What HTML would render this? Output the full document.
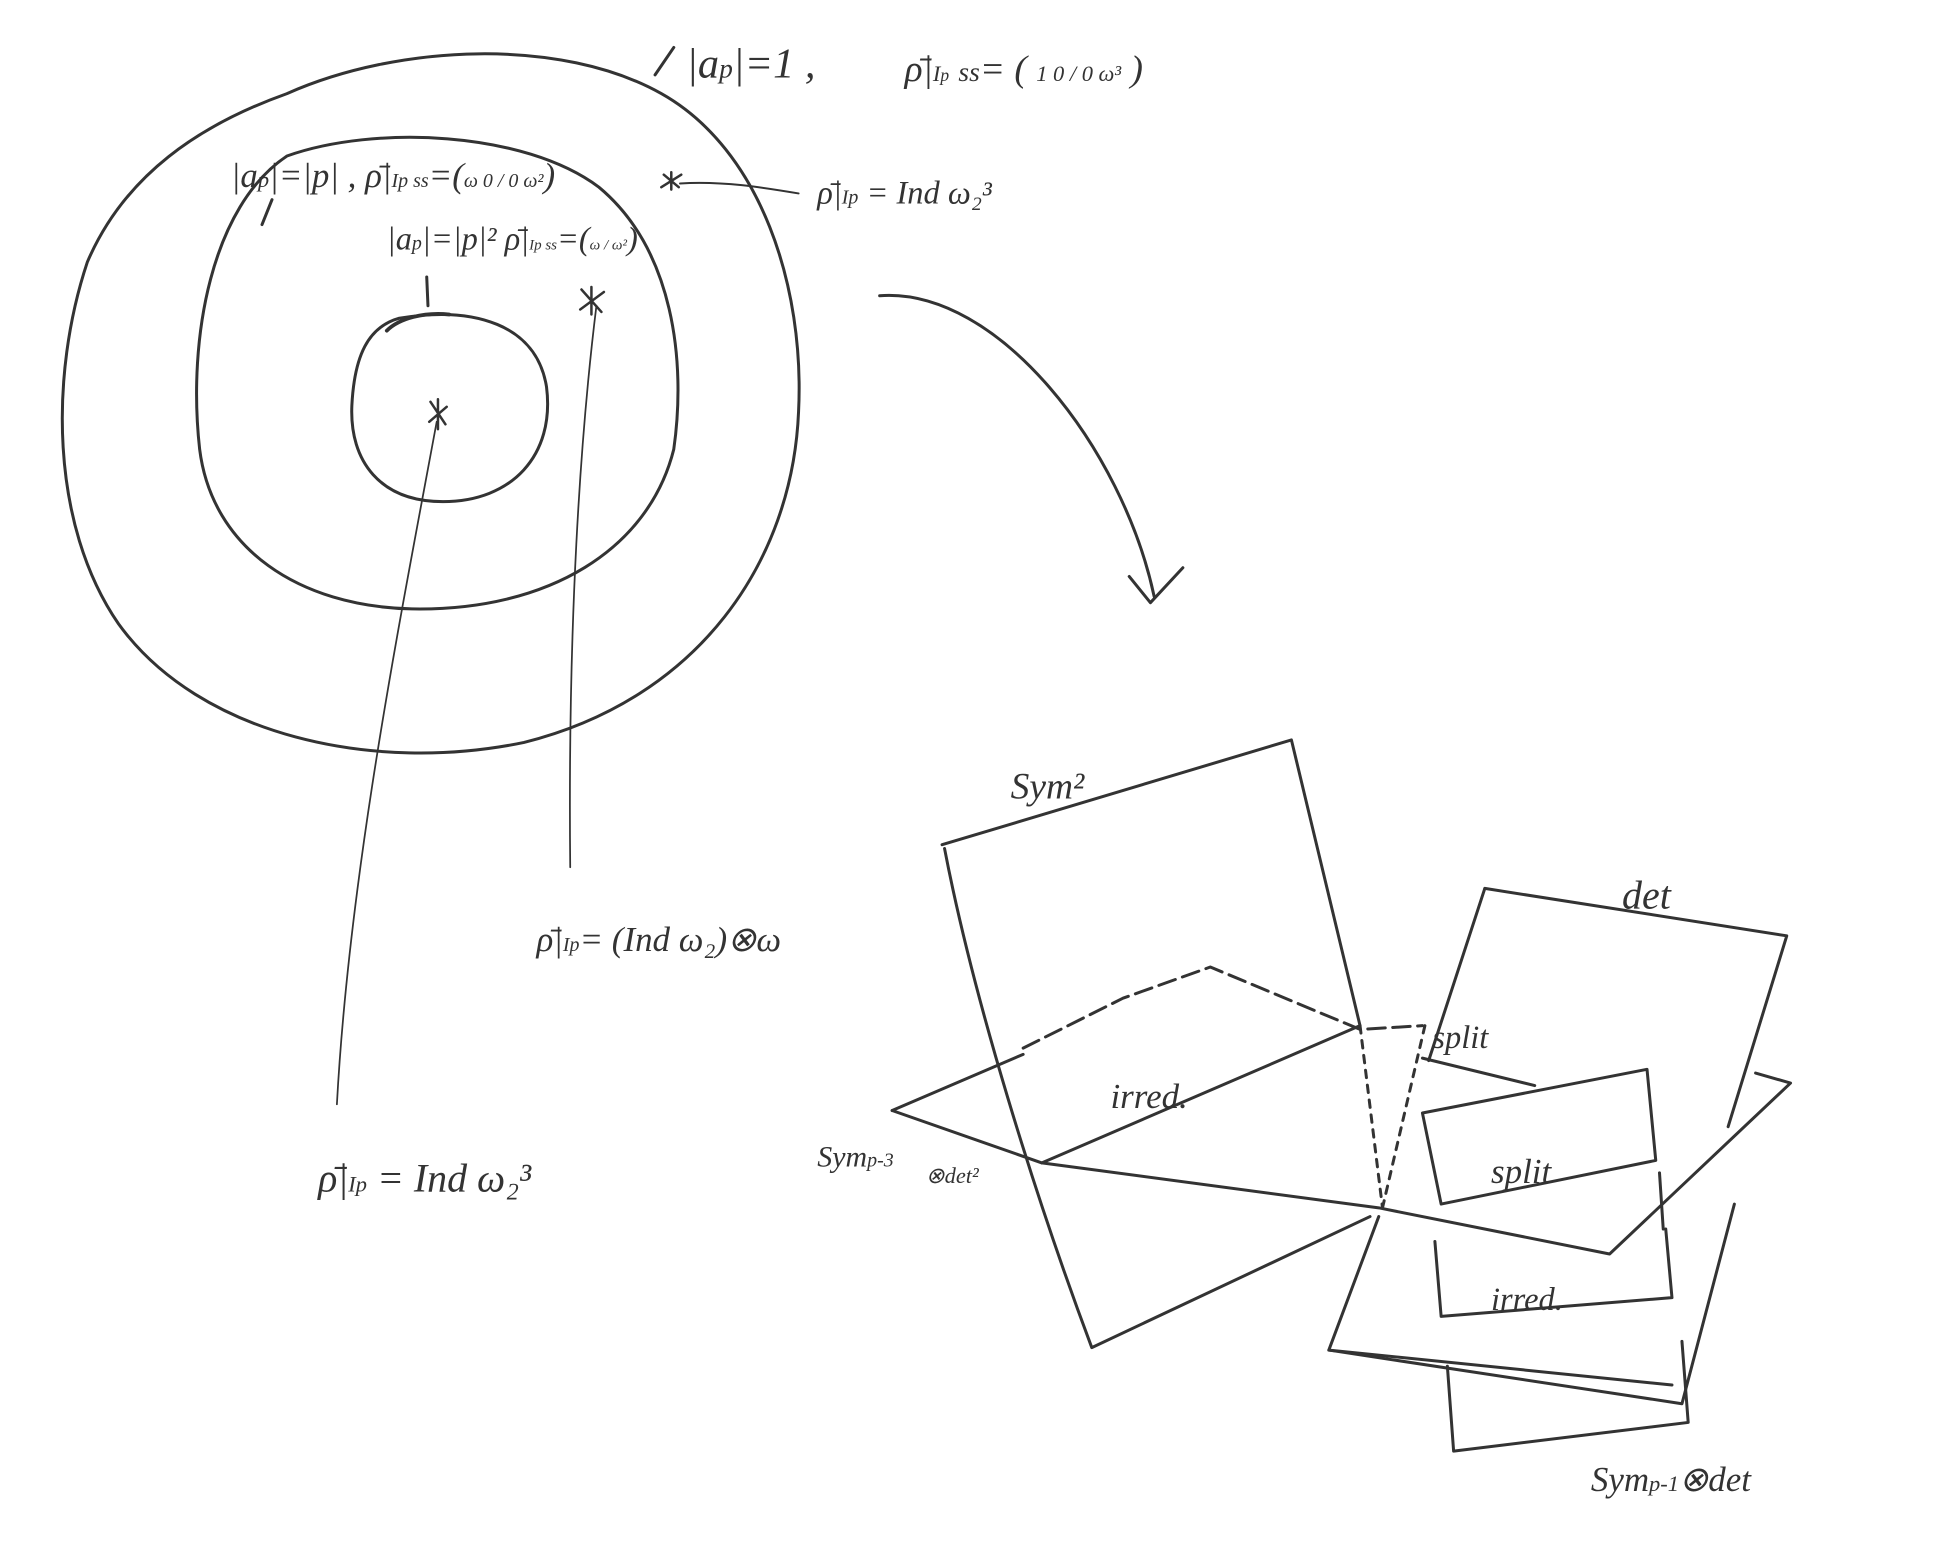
<!DOCTYPE html>
<html><head><meta charset="utf-8"><style>
html,body{margin:0;padding:0;background:#fff;}
svg{display:block}
text{font-family:"Liberation Serif",serif;fill:#333;font-style:italic}
</style></head><body>
<svg width="1934" height="1546" viewBox="0 0 1550 1239" xmlns="http://www.w3.org/2000/svg">
<g fill="none" stroke="#333" stroke-width="2.4" stroke-linecap="round" stroke-linejoin="round">
<!-- outer -->
<path d="M230,75 C320,35 450,30 530,75 C610,120 645,230 640,330 C635,450 560,560 420,595 C300,620 160,590 95,500 C40,420 40,300 70,210 C100,140 160,100 230,75 Z"/>
<!-- middle -->
<path d="M230,125 C300,100 420,105 480,150 C540,200 550,290 540,360 C520,440 440,490 330,488 C240,486 170,440 160,360 C150,270 170,165 230,125 Z"/>
<!-- inner -->
<path d="M320,255 C380,245 430,260 438,310 C445,365 410,402 355,402 C305,402 280,370 282,325 C284,285 295,262 320,255 Z"/>
<path d="M310,265 C320,255 340,250 360,252" stroke-width="3"/>
<!-- tick marks -->
<path d="M525,60 L540,38 M210,180 L218,160 M342,222 L343,245"/>
<!-- stars -->
<path d="M532,140 L544,150 M538,138 L538,152 M530,150 L546,140 M466,232 L482,250 M474,230 L474,252 M465,248 L484,234 M345,322 L357,340 M351,320 L351,344 M344,338 L358,326" stroke-width="2"/>
<!-- leaders -->
<path d="M545,147 C580,145 610,150 640,155" stroke-width="1.6"/>
<path d="M350,338 C320,500 280,700 270,885" stroke-width="1.4"/>
<path d="M478,245 C465,350 455,500 457,695" stroke-width="1.4"/>
<!-- arrow -->
<path d="M705,237 C800,230 900,360 925,478"/>
<path d="M905,462 L922,483 L948,455"/>
<!-- Sym2 plane -->
<path d="M755,677 L1035,593 L1090,822"/>
<path d="M757,680 C780,800 830,960 875,1080 L1098,975"/>
<!-- dashed back edge -->
<path d="M820,840 L900,800 L970,775 L1090,825 L1140,822" stroke-dasharray="14,6"/>
<path d="M1090,822 L1108,968 M1142,822 L1108,968" stroke-dasharray="6,6"/>
<!-- horizontal plane -->
<path d="M715,890 L835,932 L1105,968 L1290,1005 L1435,868 L1407,860"/>
<path d="M715,890 L820,845 M835,932 L1090,822"/>
<!-- det plane -->
<path d="M1190,712 L1432,750 L1385,903"/>
<path d="M1190,712 L1145,850 M1140,848 L1230,870"/>
<!-- split box -->
<path d="M1140,892 L1320,857 L1327,930 L1155,965 Z"/>
<!-- lower parts -->
<path d="M1105,975 L1065,1082 L1348,1125 L1390,965"/>
<path d="M1065,1082 L1340,1110"/>
<path d="M1150,995 L1155,1055 L1340,1040 L1335,985"/>
<path d="M1160,1095 L1165,1163 L1353,1140 L1348,1075"/>
<path d="M1330,940 L1333,985"/>
</g>
<g font-size="34">
<text x="550" y="62">|a<tspan font-size="22">p</tspan>|=1 ,</text>
<text x="725" y="65" font-size="30">ρ̄|<tspan font-size="18">I<tspan font-size="14">p</tspan></tspan> <tspan font-size="22">ss</tspan>= ( <tspan font-size="18">1 0 / 0 ω³</tspan> )</text>
<text x="185" y="150" font-size="28">|a<tspan font-size="18">p</tspan>|=|p| , ρ̄|<tspan font-size="16">Ip ss</tspan>=(<tspan font-size="16">ω 0 / 0 ω²</tspan>)</text>
<text x="310" y="200" font-size="26">|a<tspan font-size="16">p</tspan>|=|p|² ρ̄|<tspan font-size="12">Ip ss</tspan>=(<tspan font-size="12">ω / ω²</tspan>)</text>
<text x="655" y="163" font-size="26">ρ̄|<tspan font-size="16">Ip</tspan> = Ind ω₂³</text>
<text x="430" y="762" font-size="28">ρ̄|<tspan font-size="16">Ip</tspan>= (Ind ω₂)⊗ω</text>
<text x="255" y="955" font-size="32">ρ̄|<tspan font-size="18">Ip</tspan> = Ind ω₂³</text>
<text x="810" y="640" font-size="30">Sym²</text>
<text x="1300" y="728" font-size="32">det</text>
<text x="890" y="888" font-size="28">irred.</text>
<text x="1148" y="840" font-size="26">split</text>
<text x="1195" y="948" font-size="28">split</text>
<text x="1195" y="1050" font-size="26">irred.</text>
<text x="655" y="935" font-size="24">Sym<tspan font-size="16">p-3</tspan></text>
<text x="742" y="948" font-size="18">⊗det²</text>
<text x="1275" y="1195" font-size="28">Sym<tspan font-size="18">p-1</tspan>⊗det</text>
</g>
</svg>
</body></html>
